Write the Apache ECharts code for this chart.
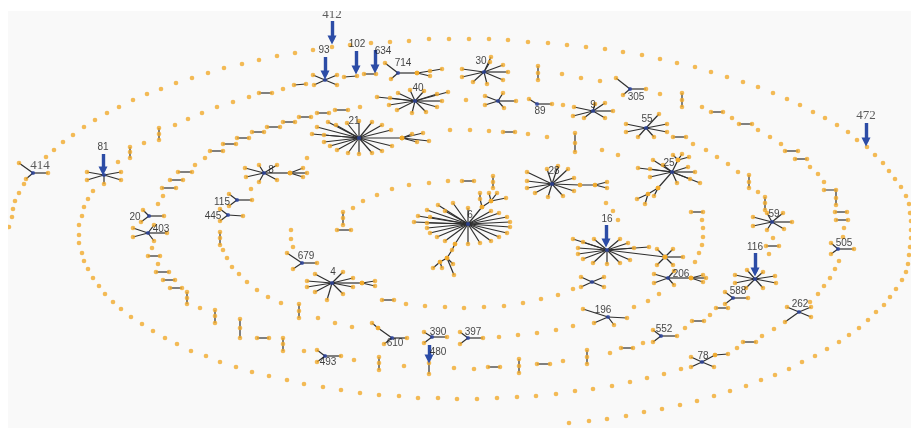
<!DOCTYPE html>
<html><head><meta charset="utf-8">
<script src="https://cdn.jsdelivr.net/npm/echarts@6/dist/echarts.min.js"></script>
<style>html,body{margin:0;padding:0;background:#fff;}#c{position:absolute;left:8px;top:11px;width:903px;height:417px;}</style>
</head><body><div id="c"></div>
<script>
// isolated nodes (layout positions)
const ringDots = [
[9,227],[12,217],[13,209],[15,201],[19,193],[24,184],[46,157],[54,150],[63,142],[73,135],[84,127],[95,120],[107,113],[119,107],[133,100],[147,94],[161,89],[176,83],[192,78],[208,73],[224,68],[242,64],[259,60],[277,56],[295,53],[313,50],[332,47],[350,45],[371,43],[390,42],[409,41],[429,39],[449,39],[469,39],[489,39],[508,40],[528,42],[548,43],[567,45],[586,47],[605,49],[623,52],[642,55],[660,59],[677,63],[695,67],[711,72],[727,77],[743,82],[758,87],[773,93],[787,99],[800,105],[813,112],[825,118],[837,125],[848,132],[857,140],[867,147],[875,155],[883,163],[889,171],[895,179],[901,187],[906,196],[909,204],[910,213],[911,221],[911,230],[911,238],[910,247],[909,255],[908,264],[906,272],[902,280],[896,289],[890,297],[884,305],[876,312],[868,320],[859,328],[849,335],[839,342],[827,349],[815,356],[802,362],[789,369],[775,375],[761,380],[746,386],[730,391],[714,396],[697,401],[680,405],[662,409],[644,412],[626,416],[607,419],[589,421],[569,423],
[304,384],[287,380],[269,376],[252,372],[236,367],[220,362],[206,356],[191,351],[177,344],[165,338],[153,331],[142,324],[131,317],[121,309],[113,302],[105,294],[99,286],[93,278],[88,269],[84,261],[82,253],[79,243],[79,235],[79,225],[82,216],[84,207],[88,199],[93,191],[118,162],[144,143],[175,125],[188,119],[202,113],[217,107],[233,102],[249,97],[283,89],[562,74],[581,78],[600,81],[660,94],[702,107],[732,118],[758,130],[770,137],[781,144],[810,167],[818,174],[824,182],[844,228],[843,237],[839,261],[835,269],[830,278],[824,286],[818,294],[810,302],[774,329],[762,336],[737,348],[681,369],[664,374],[647,378],[630,382],[612,386],[593,389],[575,391],[556,394],[536,396],[517,397],[497,398],[477,399],[457,399],[438,398],[418,398],[399,396],[379,395],[360,393],[341,390],[323,387],
[158,204],[163,196],[195,165],[205,158],[360,107],[466,100],[563,105],[693,144],[706,150],[717,157],[728,164],[738,172],[758,192],[773,238],[769,254],[710,315],[685,328],[643,343],[610,353],[563,361],[474,369],[454,368],[404,366],[354,360],[304,351],[200,308],[158,264],[152,248],
[251,189],[307,158],[450,130],[470,130],[489,131],[528,134],[547,137],[602,150],[618,155],[702,220],[703,228],[703,237],[702,245],[699,253],[695,262],[659,294],[648,301],[634,307],[573,326],[556,330],[537,333],[518,335],[499,337],[352,327],[335,323],[318,318],[281,303],[268,297],[257,290],[247,282],[239,274],[232,267],[227,258],[223,250],[291,230],[291,239],[293,247],
[353,208],[363,201],[377,195],[392,189],[409,185],[429,183],[448,181],[606,203],[613,211],[618,220],[573,289],[558,295],[541,299],[523,303],[504,306],[484,307],[464,308],[445,307],[425,306],[406,304]
];
// small connected pieces (pairs, triples, branches): each is a path of nodes
const chains = [
[[130,147],[130,152],[130,158]],[[159,128],[159,134],[159,140]],[[259,93],[272,93]],[[294,85],[306,84]],[[344,77],[357,76]],[[364,74],[376,74]],
[[538,66],[538,73],[538,80]],[[682,93],[682,100],[682,107]],[[711,112],[723,112]],[[739,124],[752,124]],[[785,151],[798,151]],[[795,159],[807,159]],
[[824,190],[836,190],[836,198],[836,205]],[[835,212],[847,212]],[[836,220],[848,220]],[[743,342],[756,342]],[[715,355],[728,354]],
[[162,188],[176,188]],[[170,180],[183,180]],[[178,172],[192,172]],[[210,151],[223,151]],[[223,144],[236,144]],[[237,138],[249,138]],[[252,132],[264,132]],
[[267,127],[280,127]],[[283,122],[295,122]],[[299,117],[311,117]],[[317,113],[329,113]],[[335,110],[348,110]],[[673,137],[686,137]],
[[749,175],[749,182],[749,188]],[[765,197],[765,203],[765,210]],[[766,246],[779,246]],[[716,308],[728,308]],[[692,321],[704,321]],[[621,348],[633,348]],
[[587,350],[587,357],[587,364]],[[537,364],[550,364]],[[519,359],[519,366],[519,373]],[[488,367],[500,367]],[[429,363],[429,374]],[[379,357],[379,363],[379,370]],
[[283,338],[283,344],[283,351]],[[257,338],[269,338]],[[240,319],[240,328],[240,338]],[[215,310],[215,316],[215,323]],[[187,292],[187,298],[187,304]],
[[170,288],[182,288]],[[163,280],[175,280]],[[156,272],[169,272]],[[148,256],[160,256]],
[[503,132],[515,132]],[[575,133],[575,143],[575,152]],[[691,212],[703,212]],[[220,232],[220,238],[220,245]],[[299,304],[299,311],[299,318]],
[[343,212],[343,218],[343,225]],[[337,230],[351,230]],[[462,181],[474,181]],[[493,176],[493,182],[493,188]],[[382,300],[394,300]],
[[417,73],[430,71],[442,69]],[[417,73],[430,76]],
[[402,138],[412,134]],[[402,138],[423,133]],[[402,138],[417,142]],[[402,138],[429,141]],
[[290,173],[303,168]],[[290,173],[303,177]],[[290,173],[307,173]],
[[362,283],[375,281]],[[362,283],[375,286]],
[[482,207],[480,199],[480,193]],[[482,207],[491,201],[506,198]],[[491,201],[489,193]],[[491,201],[497,193]],
[[455,244],[452,250],[447,258],[440,262],[433,268]],[[447,258],[453,264]],[[440,262],[442,268]],[[447,258],[454,275]],
[[580,185],[595,185],[607,182]],[[595,185],[607,188]],
[[678,160],[673,155]],[[678,160],[682,154]],[[678,160],[689,157]],[[658,188],[648,194],[637,199]],[[648,194],[645,204]],[[658,188],[654,196]],
[[665,257],[657,249]],[[665,257],[673,249]],[[665,257],[657,265]],[[665,257],[673,265]],[[665,257],[683,257]],
[[691,278],[703,275]],[[691,278],[706,278]],[[691,278],[703,282]],
[[378,328],[372,323]]
];
// star components: centre node and its direct neighbours
const hubCenters = [[33,173],[104,175],[325,80],[398,73],[484,72],[415,101],[498,101],[537,104],[593,111],[630,89],[646,128],[359,138],[264,173],[237,200],[228,215],[149,216],[148,233],[302,263],[332,283],[468,224],[552,184],[672,172],[607,250],[592,282],[772,222],[755,279],[733,298],[661,336],[668,278],[608,317],[799,312],[838,249],[702,362],[392,338],[432,337],[468,338],[325,356]];
const hubLeaves = [
[[19,163],[48,173],[26,179]],
[[87,172],[87,180],[121,172],[121,180],[104,184]],
[[313,75],[314,85],[337,75],[337,85]],
[[385,63],[391,79],[417,73]],
[[462,69],[462,77],[473,82],[487,84],[503,80],[508,72],[503,65],[490,62],[491,57]],
[[377,97],[390,98],[389,105],[397,110],[412,113],[426,112],[437,107],[442,101],[437,94],[448,92],[424,91],[410,90],[398,93]],
[[485,96],[485,105],[503,93],[504,108],[516,101]],
[[529,99],[552,104]],
[[574,107],[573,116],[584,118],[595,104],[605,103],[613,111],[605,118]],
[[616,78],[623,95],[646,89]],
[[626,124],[626,132],[638,137],[654,137],[667,132],[667,124],[659,114]],
[[312,134],[324,135],[317,127],[328,122],[336,125],[347,123],[359,121],[372,122],[382,125],[391,130],[402,138],[324,142],[330,146],[337,150],[348,153],[359,154],[372,153],[382,151],[392,146]],
[[245,168],[246,177],[259,165],[259,182],[277,165],[277,180],[290,173]],
[[229,194],[229,206],[252,200]],
[[220,209],[220,221],[243,216]],
[[143,210],[141,222],[164,216]],
[[133,228],[133,237],[154,225],[154,241],[167,233]],
[[287,253],[293,269],[317,263]],
[[307,281],[307,287],[315,274],[315,292],[327,300],[343,294],[353,287],[343,272],[353,278],[362,283]],
[[414,222],[418,216],[427,210],[438,205],[453,203],[427,223],[430,217],[445,211],[427,228],[430,233],[437,237],[445,241],[455,244],[468,244],[480,243],[491,241],[499,237],[507,233],[510,227],[510,222],[507,217],[499,213],[491,211],[468,208],[482,207]],
[[527,172],[527,181],[527,188],[535,193],[548,197],[563,196],[574,191],[574,178],[568,169],[558,166],[547,169],[580,185]],
[[638,168],[650,169],[650,177],[653,160],[663,165],[677,183],[690,179],[700,183],[695,172],[688,167],[678,160],[658,188]],
[[573,239],[583,242],[578,248],[578,254],[583,259],[593,263],[607,264],[620,263],[630,260],[620,239],[628,243],[634,248],[649,247],[594,239],[665,257]],
[[581,277],[581,287],[604,277],[604,287]],
[[753,217],[753,226],[767,213],[767,230],[783,213],[784,229],[792,222]],
[[735,275],[735,283],[747,270],[746,288],[763,288],[775,276],[776,283],[763,272]],
[[725,292],[725,304],[748,298]],
[[653,330],[653,342],[677,336]],
[[654,274],[654,283],[674,271],[674,285],[691,278]],
[[583,309],[594,323],[627,318],[614,325]],
[[787,307],[785,322],[811,307],[811,317]],
[[831,243],[831,254],[854,249]],
[[691,357],[691,367],[714,367],[715,355]],
[[378,328],[384,344],[407,338]],
[[424,332],[424,343],[447,337]],
[[460,332],[460,344],[483,338]],
[[317,350],[317,362],[341,356]]
];
// node id labels
const labelTexts = ['81','93','102','634','714','30','40','89','9','305','55','21','8','115','445','20','403','679','4','6','28','25','16','59','116','588','552','206','196','262','505','78','610','390','397','493','480'];
const labelAt = [[103,147],[324,50],[357,44],[383,51],[403,63],[481,61],[418,88],[540,111],[593,105],[636,97],[647,119],[354,121],[271,170],[222,202],[213,216],[135,217],[161,229],[306,256],[333,272],[470,215],[554,171],[669,163],[607,219],[774,214],[755,247],[738,291],[664,329],[681,274],[603,310],[800,304],[844,243],[703,356],[395,343],[438,332],[473,332],[328,362],[438,352]];
const serifTexts = ['412','472','414'];
const serifAt = [[332,15],[866,116],[40,166]];
// arrows marking nodes: [x, top, tip]
const arrows = [[332,21,43],[866,123,145],[103,154,174],[325,57,78],[356,51,73],[375,50,72],[606,225,246],[755,253,275],[429,345,362]];

const orange = '#f1aa2c', blue = '#2b43a0';
const nodes = [];
ringDots.forEach(p => nodes.push(p));
chains.forEach(c => c.forEach(p => nodes.push(p)));
hubLeaves.forEach(l => l.forEach(p => nodes.push(p)));
const edges = [];
chains.forEach(c => edges.push({coords: c}));
hubCenters.forEach((c, i) => hubLeaves[i].forEach(p => edges.push({coords: [c, p]})));

const chart = echarts.init(document.getElementById('c'));
chart.setOption({
  backgroundColor: '#f9f9f9',
  animation: false,
  grid: {left: 0, right: 0, top: 0, bottom: 0},
  xAxis: {type: 'value', min: 8, max: 911, show: false},
  yAxis: {type: 'value', min: 11, max: 428, inverse: true, show: false},
  series: [
    {type: 'lines', coordinateSystem: 'cartesian2d', polyline: true, z: 1,
     lineStyle: {color: '#2e2e2e', width: 1.2, opacity: 1}, data: edges},
    {type: 'scatter', z: 2, symbolSize: 4.6, itemStyle: {color: orange}, data: nodes},
    {type: 'scatter', z: 3, symbolSize: 4.2, itemStyle: {color: blue}, data: hubCenters},
    {type: 'lines', coordinateSystem: 'cartesian2d', z: 4, symbol: ['none', 'triangle'], symbolSize: [0, 9],
     lineStyle: {color: '#2c4ca6', width: 3.4, opacity: 1},
     data: arrows.map(a => ({coords: [[a[0], a[1]], [a[0], a[2] - 3]]}))},
    {type: 'scatter', z: 5, symbolSize: 0, silent: true,
     label: {show: true, position: 'inside', formatter: p => p.name, color: '#111', fontSize: 10, fontFamily: 'Liberation Sans, Arial, sans-serif'},
     data: labelTexts.map((t, i) => ({name: t, value: labelAt[i]}))},
    {type: 'scatter', z: 5, symbolSize: 0, silent: true,
     label: {show: true, position: 'inside', formatter: p => p.name, color: '#333', fontSize: 13, fontFamily: 'Liberation Serif, Times New Roman, serif'},
     data: serifTexts.map((t, i) => ({name: t, value: serifAt[i]}))}
  ]
});
</script></body></html>
